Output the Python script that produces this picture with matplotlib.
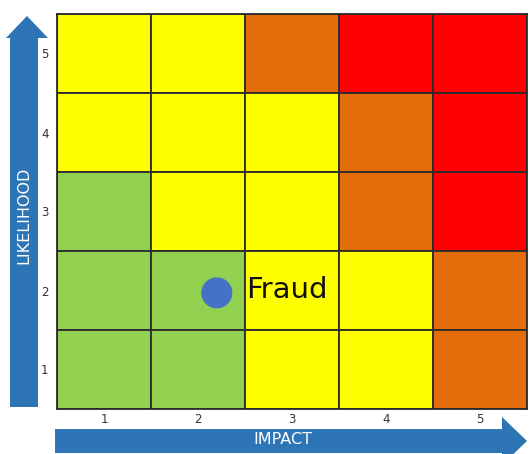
import matplotlib
matplotlib.use("Agg")
import matplotlib.pyplot as plt
from matplotlib.patches import Rectangle, Polygon
import numpy as np

# Risk matrix: rows are likelihood 5 (top) .. 1 (bottom), columns impact 1..5
impact_levels = [1, 2, 3, 4, 5]
likelihood_levels = [1, 2, 3, 4, 5]
risk_grid = [
    ["Y", "Y", "O", "R", "R"],   # likelihood 5
    ["Y", "Y", "Y", "O", "R"],   # likelihood 4
    ["G", "Y", "Y", "O", "R"],   # likelihood 3
    ["G", "G", "Y", "Y", "O"],   # likelihood 2
    ["G", "G", "Y", "Y", "O"],   # likelihood 1
]
risk_colors = {"G": "#92D050", "Y": "#FFFF00", "O": "#E46C0A", "R": "#FF0000"}

risk_name = "Fraud"
risk_impact = 2.2
risk_likelihood = 1.97

W, H = 529, 454
fig = plt.figure(figsize=(W / 100, H / 100), dpi=100)
fig.patch.set_facecolor("white")

left, right, top, bottom = 57, 527, 14, 409
ax = fig.add_axes([left / W, 1 - bottom / H, (right - left) / W, (bottom - top) / H])

n = len(likelihood_levels)
for r, row in enumerate(risk_grid):
    lik = likelihood_levels[n - 1 - r]
    for c, key in enumerate(row):
        imp = impact_levels[c]
        ax.add_patch(Rectangle((imp - 0.5, lik - 0.5), 1, 1,
                               facecolor=risk_colors[key], edgecolor="#2b2b2b",
                               linewidth=1.3))

ax.set_xlim(0.5, 5.5)
ax.set_ylim(0.5, 5.5)
ax.set_xticks(impact_levels)
ax.set_yticks(likelihood_levels)
ax.tick_params(length=0, labelsize=8.5, labelcolor="#333333")
ax.tick_params(axis="x", pad=3)
ax.tick_params(axis="y", pad=6)
for s in ax.spines.values():
    s.set_color("#2b2b2b")
    s.set_linewidth(1.3)

ax.scatter([risk_impact], [risk_likelihood], s=500, color="#4472C4", zorder=5,
           edgecolors="none")
ax.text(risk_impact + 0.31, risk_likelihood + 0.04, risk_name, fontsize=21,
        va="center", ha="left", color="#111111", zorder=6)

# Axis arrows drawn in pixel space on an overlay
ov = fig.add_axes([0, 0, 1, 1], zorder=-1)
ov.set_xlim(0, W)
ov.set_ylim(H, 0)
ov.axis("off")
blue = "#2E75B6"
ov.add_patch(Polygon([(10, 407), (10, 38), (6, 38), (27, 16), (48, 38),
                      (38, 38), (38, 407)], closed=True, facecolor=blue,
                     edgecolor="none"))
ov.add_patch(Polygon([(55, 429), (502, 429), (502, 417), (527, 441),
                      (502, 465), (502, 453), (55, 453)], closed=True,
                     facecolor=blue, edgecolor="none"))
ov.text(24, 215, "LIKELIHOOD", rotation=90, color="white", fontsize=11.5,
        ha="center", va="center")
ov.text(283, 440, "IMPACT", color="white", fontsize=11.5,
        ha="center", va="center")

fig.savefig("out.png", dpi=100)
